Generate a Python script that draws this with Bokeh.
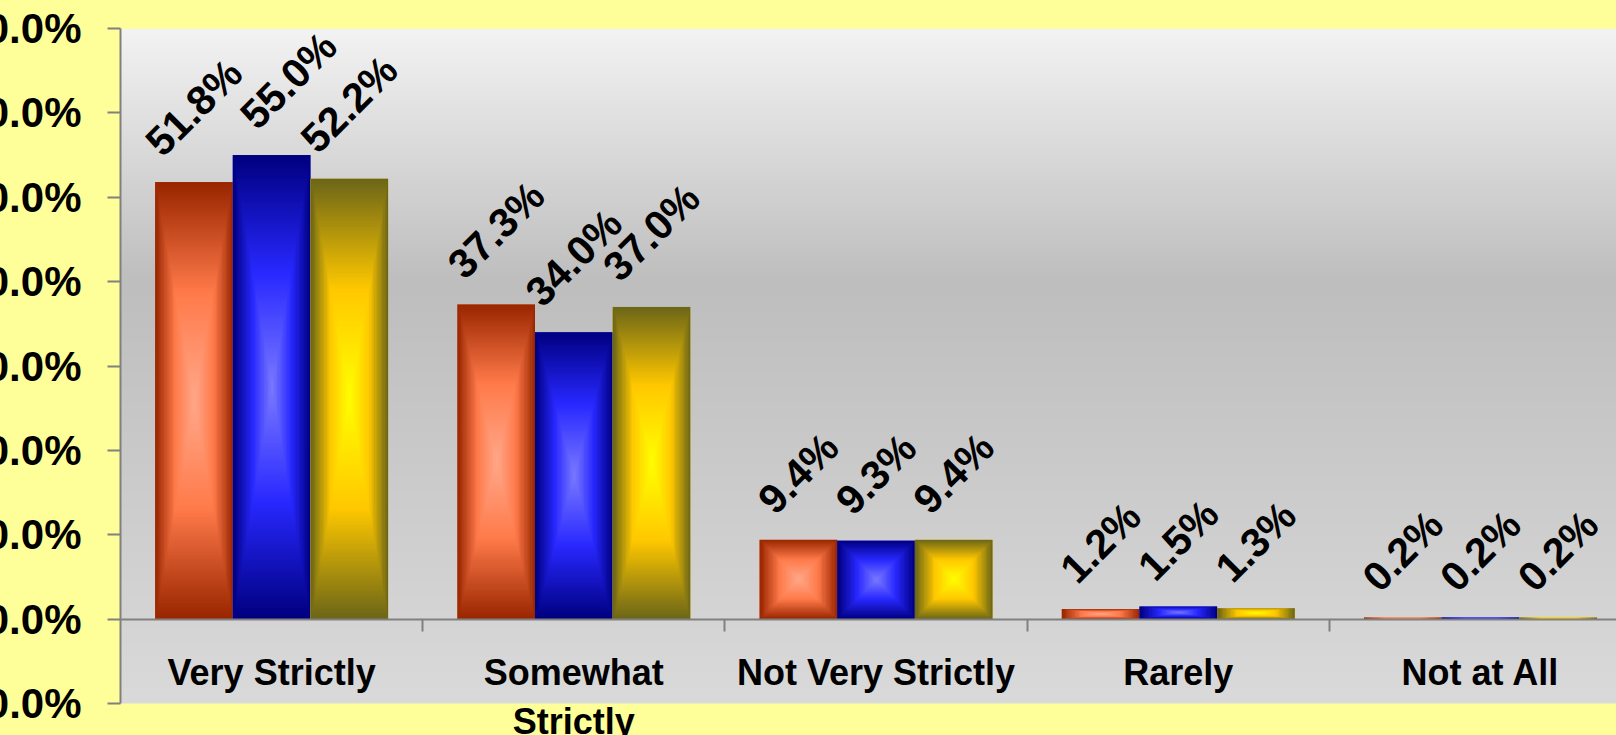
import numpy as np
from bokeh.plotting import figure
from bokeh.models import (Range1d, LinearAxis, FixedTicker, PrintfTickFormatter,
                          ColumnDataSource, GlobalInlineStyleSheet)
from bokeh.core.properties import value
from bokeh.embed import file_html
from bokeh.resources import INLINE

# ---------------- data ----------------
categories = ["Very Strictly", "Somewhat Strictly", "Not Very Strictly", "Rarely", "Not at All"]
category_labels = ["Very Strictly", "Somewhat\nStrictly", "Not Very Strictly", "Rarely", "Not at All"]
series_names = ["Series 1", "Series 2", "Series 3"]
series_1 = [51.8, 37.3, 9.4, 1.2, 0.2]
series_2 = [55.0, 34.0, 9.3, 1.5, 0.2]
series_3 = [52.2, 37.0, 9.4, 1.3, 0.2]
y_ticks = [-10, 0, 10, 20, 30, 40, 50, 60, 70]

# ---------------- style ----------------
FONT = "Liberation Sans"
YELLOW = "#ffff99"
AXIS_GRAY = "#808080"
# (edge, mid, centre) colours of the rectangular "from centre" gradients
palettes = [
    ((153, 38, 0), (255, 122, 74), (255, 168, 138)),
    ((0, 0, 128), (40, 40, 255), (122, 122, 255)),
    ((108, 102, 24), (255, 200, 0), (255, 255, 0)),
]
mid_colors = ["#ff7a4a", "#2828ff", "#ffc800"]
# small horizontal nudges (px) of individual value labels, as in the original
label_nudge = [[0, 0, 0, 0, 0], [17, 0, 0, 0, 0], [0, 0, 0, 0, 0]]

Y_MIN, Y_MAX = -10, 70
PX_PER_UNIT = 675 / 80
FRAME_H = 707
Y_LOW = Y_MAX - FRAME_H / PX_PER_UNIT      # frame continues below -10% (yellow)
X_END = 4.95
BORDER_L = 200
SHIFT = 80
BAR_W = 0.257
offsets = [-BAR_W, 0.0, BAR_W]


def rect_gradient(edge, mid, centre, nx=60, ny=300):
    u = np.abs(np.linspace(-1, 1, nx))[None, :]
    v = np.abs(np.linspace(-1, 1, ny))[:, None]
    t = np.maximum(u, v)
    img = np.empty((ny, nx), dtype=np.uint32)
    view = img.view(dtype=np.uint8).reshape((ny, nx, 4))
    for k in range(3):
        view[:, :, k] = np.interp(t, [0.0, 0.5, 1.0], [centre[k], mid[k], edge[k]]).astype(np.uint8)
    view[:, :, 3] = 255
    return img


def background_gradient(ny=300):
    rows = np.linspace(Y_MIN, Y_MAX, ny)
    g = np.interp(rows, [-10, 40, 70], [218, 190, 243]).astype(np.uint8)
    img = np.empty((ny, 2), dtype=np.uint32)
    view = img.view(dtype=np.uint8).reshape((ny, 2, 4))
    for k in range(3):
        view[:, :, k] = g[:, None]
    view[:, :, 3] = 255
    return img


p = figure(frame_width=1496, frame_height=FRAME_H,
           x_range=Range1d(0, X_END), y_range=Range1d(Y_LOW, Y_MAX),
           output_backend="svg", toolbar_location=None,
           x_axis_location=None, y_axis_location=None,
           min_border_left=BORDER_L, min_border_right=0,
           min_border_top=28, min_border_bottom=0,
           border_fill_color=YELLOW, background_fill_color=YELLOW,
           outline_line_color=None)
p.xgrid.visible = False
p.ygrid.visible = False

# plot-area gradient (from -10% to 70%)
p.image_rgba(image=[background_gradient()], x=0, y=Y_MIN, dw=X_END, dh=Y_MAX - Y_MIN, level="image")

centers = np.arange(len(categories)) + 0.5
char_w = {".": 0.278, "%": 0.889}
LABEL_FS = 41

for i, vals in enumerate([series_1, series_2, series_3]):
    xs = centers + offsets[i]
    texts = [f"{v:.1f}%" for v in vals]
    widths = [sum(char_w.get(c, 0.556) for c in t) * LABEL_FS for t in texts]
    yoff = [-(23 + 0.7071 * (w + 0.72 * LABEL_FS) / 2) for w in widths]
    src = ColumnDataSource(dict(x=xs, top=vals, text=texts, yoff=yoff, xoff=label_nudge[i]))
    p.vbar(x="x", top="top", width=BAR_W, bottom=0, source=src,
           fill_color=mid_colors[i], line_color=None)
    grad = rect_gradient(*palettes[i])
    p.image_rgba(image=[grad] * len(vals), x=list(xs - BAR_W / 2), y=[0] * len(vals),
                 dw=[BAR_W] * len(vals), dh=list(vals))
    p.text(x="x", y="top", text="text", source=src, angle=np.pi / 4,
           text_align="center", text_baseline="middle", y_offset="yoff", x_offset="xoff",
           text_font=value(FONT), text_font_style="bold",
           text_font_size=f"{LABEL_FS}px", text_color="black")

# value axis
yaxis = LinearAxis(ticker=FixedTicker(ticks=y_ticks), bounds=(Y_MIN, Y_MAX),
                   formatter=PrintfTickFormatter(format="%.1f%%"),
                   major_tick_out=13, major_tick_in=0, minor_tick_out=0, minor_tick_in=0,
                   axis_line_color=AXIS_GRAY, axis_line_width=2,
                   major_tick_line_color=AXIS_GRAY, major_tick_line_width=2,
                   major_label_text_font=FONT, major_label_text_font_style="bold",
                   major_label_text_font_size="42px", major_label_text_color="black",
                   major_label_standoff=26)
p.add_layout(yaxis, "left")

# category axis crossing at zero: boundary ticks
bounds = [1, 2, 3, 4]
tick_axis = LinearAxis(ticker=FixedTicker(ticks=bounds), fixed_location=0,
                       major_label_overrides={b: "" for b in bounds},
                       major_tick_out=12, major_tick_in=0, minor_tick_out=0, minor_tick_in=0,
                       axis_line_color=AXIS_GRAY, axis_line_width=2,
                       major_tick_line_color=AXIS_GRAY, major_tick_line_width=2)
p.add_layout(tick_axis, "below")

# category labels
label_axis = LinearAxis(ticker=FixedTicker(ticks=list(centers)), fixed_location=0,
                        major_label_overrides={float(c): lab for c, lab in zip(centers, category_labels)},
                        major_tick_out=0, major_tick_in=0, minor_tick_out=0, minor_tick_in=0,
                        axis_line_color=None, major_tick_line_color=None,
                        major_label_text_font=FONT, major_label_text_font_style="bold",
                        major_label_text_font_size="36px", major_label_text_color="black",
                        major_label_standoff=33)
p.add_layout(label_axis, "below")

p.stylesheets = [GlobalInlineStyleSheet(
    css="html, body { margin: 0; padding: 0; background: #ffff99; overflow: hidden; }")]
p.styles = {"margin-left": f"-{SHIFT}px"}

open("out.html", "w").write(file_html(p, INLINE))
